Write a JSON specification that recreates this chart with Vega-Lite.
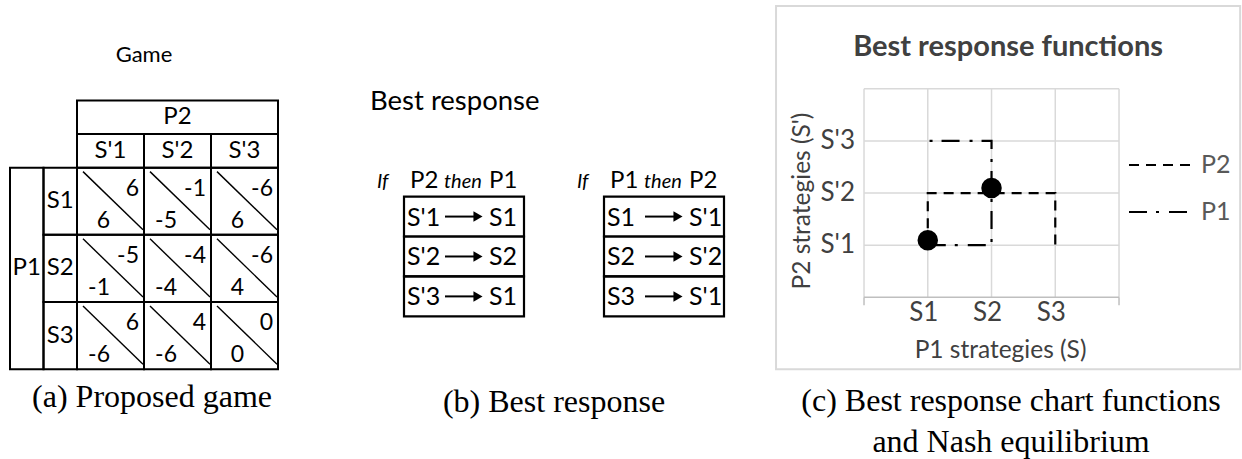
{
  "$schema": "https://vega.github.io/schema/vega-lite/v6.json",
  "width": 1242,
  "height": 459,
  "autosize": {"type": "fit", "contains": "padding"},
  "padding": 0,
  "background": "white",
  "config": {"view": {"stroke": null}, "axis": {"disable": true}, "text": {"font": "Lato"}},
  "datasets": {
    "cellsA": [
      {"label": "P2", "x0": 0, "x1": 3, "y0": -1, "y1": -0.5, "cx": 1.5, "cy": -0.75},
      {"label": "S'1", "x0": 0, "x1": 1, "y0": -0.5, "y1": 0, "cx": 0.5, "cy": -0.25},
      {"label": "S'2", "x0": 1, "x1": 2, "y0": -0.5, "y1": 0, "cx": 1.5, "cy": -0.25},
      {"label": "S'3", "x0": 2, "x1": 3, "y0": -0.5, "y1": 0, "cx": 2.5, "cy": -0.25},
      {"label": "P1", "x0": -1, "x1": -0.5, "y0": 0, "y1": 3, "cx": -0.75, "cy": 1.5},
      {"label": "S1", "x0": -0.5, "x1": 0, "y0": 0, "y1": 1, "cx": -0.25, "cy": 0.5},
      {"label": "S2", "x0": -0.5, "x1": 0, "y0": 1, "y1": 2, "cx": -0.25, "cy": 1.5},
      {"label": "S3", "x0": -0.5, "x1": 0, "y0": 2, "y1": 3, "cx": -0.25, "cy": 2.5}
    ],
    "payoffs": [
      {"s": "S1", "sp": "S'1", "x0": 0, "x1": 1, "y0": 0, "y1": 1, "u1": "6", "u2": "6"},
      {"s": "S1", "sp": "S'2", "x0": 1, "x1": 2, "y0": 0, "y1": 1, "u1": "-5", "u2": "-1"},
      {"s": "S1", "sp": "S'3", "x0": 2, "x1": 3, "y0": 0, "y1": 1, "u1": "6", "u2": "-6"},
      {"s": "S2", "sp": "S'1", "x0": 0, "x1": 1, "y0": 1, "y1": 2, "u1": "-1", "u2": "-5"},
      {"s": "S2", "sp": "S'2", "x0": 1, "x1": 2, "y0": 1, "y1": 2, "u1": "-4", "u2": "-4"},
      {"s": "S2", "sp": "S'3", "x0": 2, "x1": 3, "y0": 1, "y1": 2, "u1": "4", "u2": "-6"},
      {"s": "S3", "sp": "S'1", "x0": 0, "x1": 1, "y0": 2, "y1": 3, "u1": "-6", "u2": "6"},
      {"s": "S3", "sp": "S'2", "x0": 1, "x1": 2, "y0": 2, "y1": 3, "u1": "-6", "u2": "4"},
      {"s": "S3", "sp": "S'3", "x0": 2, "x1": 3, "y0": 2, "y1": 3, "u1": "0", "u2": "0"}
    ],
    "brRows": [
      {"tbl": "L", "bx0": 0, "bx1": 3, "r0": 0, "r1": 1, "from": "S'1", "to": "S1"},
      {"tbl": "L", "bx0": 0, "bx1": 3, "r0": 1, "r1": 2, "from": "S'2", "to": "S2"},
      {"tbl": "L", "bx0": 0, "bx1": 3, "r0": 2, "r1": 3, "from": "S'3", "to": "S1"},
      {"tbl": "R", "bx0": 5, "bx1": 8, "r0": 0, "r1": 1, "from": "S1", "to": "S'1"},
      {"tbl": "R", "bx0": 5, "bx1": 8, "r0": 1, "r1": 2, "from": "S2", "to": "S'2"},
      {"tbl": "R", "bx0": 5, "bx1": 8, "r0": 2, "r1": 3, "from": "S3", "to": "S'1"}
    ],
    "brHeads": [
      {"tbl": "L", "bx0": 0, "given": "P2", "resp": "P1"},
      {"tbl": "R", "bx0": 5, "given": "P1", "resp": "P2"}
    ],
    "grid": [{"v": 0}, {"v": 1}, {"v": 2}, {"v": 3}, {"v": 4}],
    "xLabels": [{"v": 1, "s": "S1"}, {"v": 2, "s": "S2"}, {"v": 3, "s": "S3"}],
    "yLabels": [{"v": 1, "s": "S'1"}, {"v": 2, "s": "S'2"}, {"v": 3, "s": "S'3"}],
    "paths": [
      {"player": "P2", "ord": 0, "s": 1, "sp": 1},
      {"player": "P2", "ord": 1, "s": 1, "sp": 2},
      {"player": "P2", "ord": 2, "s": 3, "sp": 2},
      {"player": "P2", "ord": 3, "s": 3, "sp": 1},
      {"player": "P1", "ord": 0, "s": 1, "sp": 1},
      {"player": "P1", "ord": 1, "s": 2, "sp": 1},
      {"player": "P1", "ord": 2, "s": 2, "sp": 3},
      {"player": "P1", "ord": 3, "s": 1, "sp": 3}
    ],
    "nash": [{"s": 1, "sp": 1}, {"s": 2, "sp": 2}]
  },
  "resolve": {"scale": {"x": "independent", "y": "independent"}},
  "layer": [
    {
      "layer": [
        {
          "data": {"name": "cellsA"},
          "mark": {"type": "rect", "fill": "transparent", "stroke": "black", "strokeWidth": 2},
          "encoding": {
            "x": {"field": "x0", "type": "quantitative", "scale": {"domain": [-1.1493, 17.388], "nice": false, "zero": false}},
            "x2": {"field": "x1"},
            "y": {"field": "y0", "type": "quantitative", "scale": {"domain": [-2.495, 4.322], "nice": false, "zero": false, "reverse": true}},
            "y2": {"field": "y1"}
          }
        },
        {
          "data": {"name": "payoffs"},
          "mark": {"type": "rect", "fill": "transparent", "stroke": "black", "strokeWidth": 2},
          "encoding": {
            "x": {"field": "x0", "type": "quantitative", "scale": {"domain": [-1.1493, 17.388], "nice": false, "zero": false}},
            "x2": {"field": "x1"},
            "y": {"field": "y0", "type": "quantitative", "scale": {"domain": [-2.495, 4.322], "nice": false, "zero": false, "reverse": true}},
            "y2": {"field": "y1"}
          }
        },
        {
          "data": {"name": "payoffs"},
          "mark": {"type": "rule", "stroke": "black", "strokeWidth": 1.4, "xOffset": 6, "x2Offset": -1, "yOffset": 4, "y2Offset": -5},
          "encoding": {
            "x": {"field": "x0", "type": "quantitative", "scale": {"domain": [-1.1493, 17.388], "nice": false, "zero": false}},
            "x2": {"field": "x1"},
            "y": {"field": "y0", "type": "quantitative", "scale": {"domain": [-2.495, 4.322], "nice": false, "zero": false, "reverse": true}},
            "y2": {"field": "y1"}
          }
        },
        {
          "data": {"name": "cellsA"},
          "mark": {"type": "text", "fontSize": 24, "align": "center", "baseline": "middle", "color": "black"},
          "encoding": {
            "x": {"field": "cx", "type": "quantitative", "scale": {"domain": [-1.1493, 17.388], "nice": false, "zero": false}},
            "y": {"field": "cy", "type": "quantitative", "scale": {"domain": [-2.495, 4.322], "nice": false, "zero": false, "reverse": true}},
            "text": {"field": "label", "type": "nominal"}
          }
        },
        {
          "data": {"name": "payoffs"},
          "mark": {"type": "text", "fontSize": 23, "align": "right", "baseline": "middle", "dx": -5, "dy": 21, "color": "black"},
          "encoding": {
            "x": {"field": "x1", "type": "quantitative", "scale": {"domain": [-1.1493, 17.388], "nice": false, "zero": false}},
            "y": {"field": "y0", "type": "quantitative", "scale": {"domain": [-2.495, 4.322], "nice": false, "zero": false, "reverse": true}},
            "text": {"field": "u2", "type": "nominal"}
          }
        },
        {
          "data": {"name": "payoffs"},
          "mark": {"type": "text", "fontSize": 23, "align": "right", "baseline": "middle", "dx": 33, "dy": -14, "color": "black"},
          "encoding": {
            "x": {"field": "x0", "type": "quantitative", "scale": {"domain": [-1.1493, 17.388], "nice": false, "zero": false}},
            "y": {"field": "y1", "type": "quantitative", "scale": {"domain": [-2.495, 4.322], "nice": false, "zero": false, "reverse": true}},
            "text": {"field": "u1", "type": "nominal"}
          }
        },
        {
          "data": {"values": [{}]},
          "mark": {"type": "text", "fontSize": 22, "align": "center", "baseline": "middle", "color": "black", "text": "Game"},
          "encoding": {
            "x": {"datum": 1, "type": "quantitative", "scale": {"domain": [-1.1493, 17.388], "nice": false, "zero": false}},
            "y": {"datum": -1.68, "type": "quantitative", "scale": {"domain": [-2.495, 4.322], "nice": false, "zero": false, "reverse": true}}
          }
        },
        {
          "data": {"values": [{}]},
          "mark": {"type": "text", "font": "Liberation Serif", "fontSize": 32, "align": "center", "baseline": "alphabetic", "color": "black", "text": "(a) Proposed game"},
          "encoding": {
            "x": {"datum": 1.12, "type": "quantitative", "scale": {"domain": [-1.1493, 17.388], "nice": false, "zero": false}},
            "y": {"datum": 3.565, "type": "quantitative", "scale": {"domain": [-2.495, 4.322], "nice": false, "zero": false, "reverse": true}}
          }
        }
      ]
    },
    {
      "layer": [
        {
          "data": {"name": "brRows"},
          "mark": {"type": "rect", "fill": "transparent", "stroke": "black", "strokeWidth": 2.2},
          "encoding": {
            "x": {"field": "bx0", "type": "quantitative", "scale": {"domain": [-10.1, 20.95], "nice": false, "zero": false}},
            "x2": {"field": "bx1"},
            "y": {"field": "r0", "type": "quantitative", "scale": {"domain": [-4.925, 6.55], "nice": false, "zero": false, "reverse": true}},
            "y2": {"field": "r1"}
          }
        },
        {
          "data": {"name": "brRows"},
          "mark": {"type": "text", "fontSize": 25, "align": "left", "baseline": "middle", "dx": 3, "dy": 21, "color": "black"},
          "encoding": {
            "x": {"field": "bx0", "type": "quantitative", "scale": {"domain": [-10.1, 20.95], "nice": false, "zero": false}},
            "y": {"field": "r0", "type": "quantitative", "scale": {"domain": [-4.925, 6.55], "nice": false, "zero": false, "reverse": true}},
            "text": {"field": "from", "type": "nominal"}
          }
        },
        {
          "data": {"name": "brRows"},
          "mark": {"type": "text", "fontSize": 25, "align": "left", "baseline": "middle", "dx": 85, "dy": 21, "color": "black"},
          "encoding": {
            "x": {"field": "bx0", "type": "quantitative", "scale": {"domain": [-10.1, 20.95], "nice": false, "zero": false}},
            "y": {"field": "r0", "type": "quantitative", "scale": {"domain": [-4.925, 6.55], "nice": false, "zero": false, "reverse": true}},
            "text": {"field": "to", "type": "nominal"}
          }
        },
        {
          "data": {"name": "brRows"},
          "mark": {"type": "rule", "stroke": "black", "strokeWidth": 2, "xOffset": 41, "x2Offset": 72, "yOffset": 20},
          "encoding": {
            "x": {"field": "bx0", "type": "quantitative", "scale": {"domain": [-10.1, 20.95], "nice": false, "zero": false}},
            "x2": {"field": "bx0"},
            "y": {"field": "r0", "type": "quantitative", "scale": {"domain": [-4.925, 6.55], "nice": false, "zero": false, "reverse": true}}
          }
        },
        {
          "data": {"name": "brRows"},
          "mark": {"type": "point", "shape": "triangle-right", "filled": true, "color": "black", "opacity": 1, "size": 110, "xOffset": 74, "yOffset": 20},
          "encoding": {
            "x": {"field": "bx0", "type": "quantitative", "scale": {"domain": [-10.1, 20.95], "nice": false, "zero": false}},
            "y": {"field": "r0", "type": "quantitative", "scale": {"domain": [-4.925, 6.55], "nice": false, "zero": false, "reverse": true}}
          }
        },
        {
          "data": {"name": "brHeads"},
          "mark": {"type": "text", "fontSize": 20, "fontStyle": "italic", "align": "left", "baseline": "alphabetic", "dx": -27, "dy": -9, "color": "black", "text": "If"},
          "encoding": {
            "x": {"field": "bx0", "type": "quantitative", "scale": {"domain": [-10.1, 20.95], "nice": false, "zero": false}},
            "y": {"datum": 0, "type": "quantitative", "scale": {"domain": [-4.925, 6.55], "nice": false, "zero": false, "reverse": true}}
          }
        },
        {
          "data": {"name": "brHeads"},
          "mark": {"type": "text", "fontSize": 24, "align": "left", "baseline": "alphabetic", "dx": 6, "dy": -9, "color": "black"},
          "encoding": {
            "x": {"field": "bx0", "type": "quantitative", "scale": {"domain": [-10.1, 20.95], "nice": false, "zero": false}},
            "y": {"datum": 0, "type": "quantitative", "scale": {"domain": [-4.925, 6.55], "nice": false, "zero": false, "reverse": true}},
            "text": {"field": "given", "type": "nominal"}
          }
        },
        {
          "data": {"name": "brHeads"},
          "mark": {"type": "text", "fontSize": 20, "fontStyle": "italic", "align": "left", "baseline": "alphabetic", "dx": 40, "dy": -9, "color": "black", "text": "then"},
          "encoding": {
            "x": {"field": "bx0", "type": "quantitative", "scale": {"domain": [-10.1, 20.95], "nice": false, "zero": false}},
            "y": {"datum": 0, "type": "quantitative", "scale": {"domain": [-4.925, 6.55], "nice": false, "zero": false, "reverse": true}}
          }
        },
        {
          "data": {"name": "brHeads"},
          "mark": {"type": "text", "fontSize": 24, "align": "left", "baseline": "alphabetic", "dx": 85, "dy": -9, "color": "black"},
          "encoding": {
            "x": {"field": "bx0", "type": "quantitative", "scale": {"domain": [-10.1, 20.95], "nice": false, "zero": false}},
            "y": {"datum": 0, "type": "quantitative", "scale": {"domain": [-4.925, 6.55], "nice": false, "zero": false, "reverse": true}},
            "text": {"field": "resp", "type": "nominal"}
          }
        },
        {
          "data": {"values": [{}]},
          "mark": {"type": "text", "fontSize": 27.5, "align": "left", "baseline": "middle", "color": "black", "text": "Best response"},
          "encoding": {
            "x": {"datum": -0.85, "type": "quantitative", "scale": {"domain": [-10.1, 20.95], "nice": false, "zero": false}},
            "y": {"datum": -2.375, "type": "quantitative", "scale": {"domain": [-4.925, 6.55], "nice": false, "zero": false, "reverse": true}}
          }
        },
        {
          "data": {"values": [{}]},
          "mark": {"type": "text", "font": "Liberation Serif", "fontSize": 32, "align": "center", "baseline": "alphabetic", "color": "black", "text": "(b) Best response"},
          "encoding": {
            "x": {"datum": 3.75, "type": "quantitative", "scale": {"domain": [-10.1, 20.95], "nice": false, "zero": false}},
            "y": {"datum": 5.4, "type": "quantitative", "scale": {"domain": [-4.925, 6.55], "nice": false, "zero": false, "reverse": true}}
          }
        }
      ]
    },
    {
      "layer": [
        {
          "data": {"values": [{}]},
          "mark": {"type": "rect", "fill": "transparent", "stroke": "#d9d9d9", "strokeWidth": 2},
          "encoding": {
            "x": {"datum": -1.38, "type": "quantitative", "scale": {"domain": [-13.553, 5.929], "nice": false, "zero": false}},
            "x2": {"datum": 5.9},
            "y": {"datum": 5.589, "type": "quantitative", "scale": {"domain": [-3.081, 5.703], "nice": false, "zero": false}},
            "y2": {"datum": -1.378}
          }
        },
        {
          "data": {"name": "grid"},
          "mark": {"type": "rule", "stroke": "#d9d9d9", "strokeWidth": 1.5},
          "encoding": {
            "x": {"field": "v", "type": "quantitative", "scale": {"domain": [-13.553, 5.929], "nice": false, "zero": false}},
            "y": {"datum": 0, "type": "quantitative", "scale": {"domain": [-3.081, 5.703], "nice": false, "zero": false}},
            "y2": {"datum": 4}
          }
        },
        {
          "data": {"name": "grid"},
          "transform": [{"filter": "datum.v > 0"}],
          "mark": {"type": "rule", "stroke": "#d9d9d9", "strokeWidth": 1.5},
          "encoding": {
            "y": {"field": "v", "type": "quantitative", "scale": {"domain": [-3.081, 5.703], "nice": false, "zero": false}},
            "x": {"datum": 0, "type": "quantitative", "scale": {"domain": [-13.553, 5.929], "nice": false, "zero": false}},
            "x2": {"datum": 4}
          }
        },
        {
          "data": {"name": "grid"},
          "transform": [{"filter": "datum.v == 0 || datum.v == 4"}],
          "mark": {"type": "rule", "stroke": "#bfbfbf", "strokeWidth": 1.5, "y2Offset": 8},
          "encoding": {
            "x": {"field": "v", "type": "quantitative", "scale": {"domain": [-13.553, 5.929], "nice": false, "zero": false}},
            "y": {"datum": 0, "type": "quantitative", "scale": {"domain": [-3.081, 5.703], "nice": false, "zero": false}},
            "y2": {"datum": 0}
          }
        },
        {
          "data": {"values": [{}]},
          "mark": {"type": "rule", "stroke": "#bfbfbf", "strokeWidth": 1.5},
          "encoding": {
            "x": {"datum": 0, "type": "quantitative", "scale": {"domain": [-13.553, 5.929], "nice": false, "zero": false}},
            "x2": {"datum": 4},
            "y": {"datum": 0, "type": "quantitative", "scale": {"domain": [-3.081, 5.703], "nice": false, "zero": false}}
          }
        },
        {
          "data": {"name": "paths"},
          "mark": {"type": "line", "color": "black", "strokeWidth": 2.2, "strokeCap": "butt"},
          "encoding": {
            "x": {"field": "s", "type": "quantitative", "scale": {"domain": [-13.553, 5.929], "nice": false, "zero": false}},
            "y": {"field": "sp", "type": "quantitative", "scale": {"domain": [-3.081, 5.703], "nice": false, "zero": false}},
            "order": {"field": "ord", "type": "quantitative"},
            "strokeDash": {
              "field": "player", "type": "nominal",
              "scale": {"domain": ["P2", "P1"], "range": [[10, 7], [18, 9, 3, 10]]},
              "legend": {
                "orient": "none", "legendX": 1128, "legendY": 153, "title": null, "padding": 0,
                "symbolType": "stroke", "symbolSize": 4096, "symbolStrokeWidth": 2, "symbolStrokeColor": "black",
                "clipHeight": 24, "rowPadding": 22, "labelOffset": 7,
                "labelFont": "Lato", "labelFontSize": 25, "labelColor": "#595959"
              }
            }
          }
        },
        {
          "data": {"name": "nash"},
          "mark": {"type": "point", "shape": "circle", "filled": true, "color": "black", "opacity": 1, "size": 420, "yOffset": -5},
          "encoding": {
            "x": {"field": "s", "type": "quantitative", "scale": {"domain": [-13.553, 5.929], "nice": false, "zero": false}},
            "y": {"field": "sp", "type": "quantitative", "scale": {"domain": [-3.081, 5.703], "nice": false, "zero": false}}
          }
        },
        {
          "data": {"name": "xLabels"},
          "mark": {"type": "text", "fontSize": 26, "align": "center", "baseline": "middle", "dx": -4, "dy": 16, "color": "#404040"},
          "encoding": {
            "x": {"field": "v", "type": "quantitative", "scale": {"domain": [-13.553, 5.929], "nice": false, "zero": false}},
            "y": {"datum": 0, "type": "quantitative", "scale": {"domain": [-3.081, 5.703], "nice": false, "zero": false}},
            "text": {"field": "s", "type": "nominal"}
          }
        },
        {
          "data": {"name": "yLabels"},
          "mark": {"type": "text", "fontSize": 26, "align": "right", "baseline": "middle", "dx": -9, "color": "#404040"},
          "encoding": {
            "y": {"field": "v", "type": "quantitative", "scale": {"domain": [-3.081, 5.703], "nice": false, "zero": false}},
            "x": {"datum": 0, "type": "quantitative", "scale": {"domain": [-13.553, 5.929], "nice": false, "zero": false}},
            "text": {"field": "s", "type": "nominal"}
          }
        },
        {
          "data": {"values": [{}]},
          "mark": {"type": "text", "fontSize": 24.5, "align": "center", "baseline": "middle", "dx": 9, "dy": 54, "color": "#404040", "text": "P1 strategies (S)"},
          "encoding": {
            "x": {"datum": 2, "type": "quantitative", "scale": {"domain": [-13.553, 5.929], "nice": false, "zero": false}},
            "y": {"datum": 0, "type": "quantitative", "scale": {"domain": [-3.081, 5.703], "nice": false, "zero": false}}
          }
        },
        {
          "data": {"values": [{}]},
          "mark": {"type": "text", "fontSize": 24.5, "align": "center", "baseline": "middle", "angle": 270, "dx": -8, "dy": -61, "color": "#404040", "text": "P2 strategies (S')"},
          "encoding": {
            "x": {"datum": 0, "type": "quantitative", "scale": {"domain": [-13.553, 5.929], "nice": false, "zero": false}},
            "y": {"datum": 2, "type": "quantitative", "scale": {"domain": [-3.081, 5.703], "nice": false, "zero": false}}
          }
        },
        {
          "data": {"values": [{}]},
          "mark": {"type": "text", "fontSize": 29, "fontWeight": "bold", "align": "center", "baseline": "middle", "color": "#404040", "text": "Best response functions"},
          "encoding": {
            "x": {"datum": 2.26, "type": "quantitative", "scale": {"domain": [-13.553, 5.929], "nice": false, "zero": false}},
            "y": {"datum": 4.8, "type": "quantitative", "scale": {"domain": [-3.081, 5.703], "nice": false, "zero": false}}
          }
        },
        {
          "data": {"values": [{}]},
          "mark": {"type": "text", "font": "Liberation Serif", "fontSize": 32, "align": "center", "baseline": "alphabetic", "lineHeight": 41, "color": "black", "text": ["(c) Best response chart functions", "and Nash equilibrium"]},
          "encoding": {
            "x": {"datum": 2.306, "type": "quantitative", "scale": {"domain": [-13.553, 5.929], "nice": false, "zero": false}},
            "y": {"datum": -2.182, "type": "quantitative", "scale": {"domain": [-3.081, 5.703], "nice": false, "zero": false}}
          }
        }
      ]
    }
  ]
}
